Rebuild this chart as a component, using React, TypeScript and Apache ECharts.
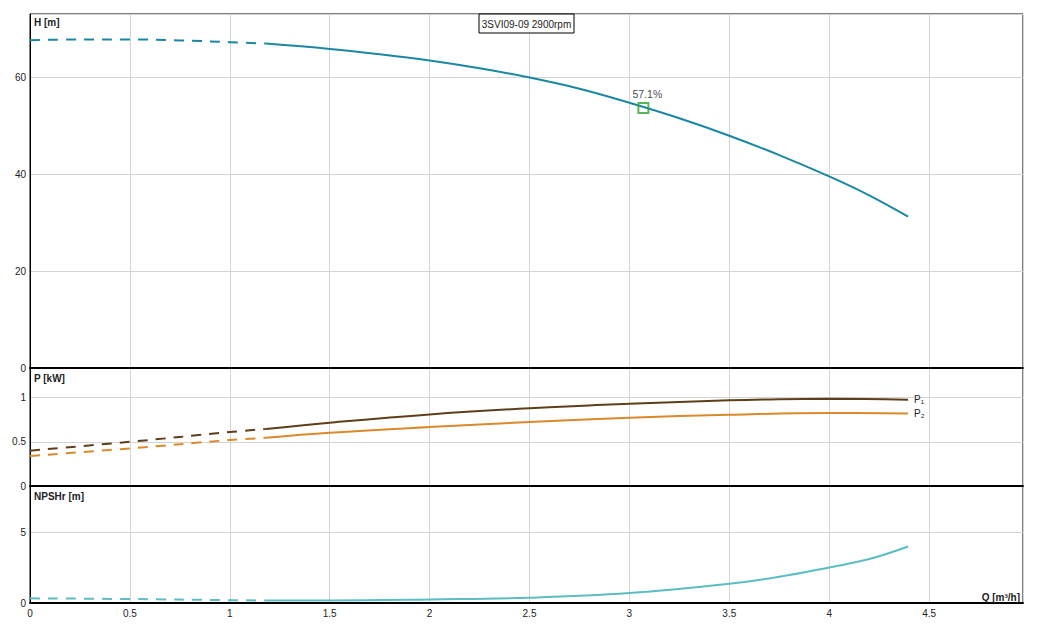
import React, { useEffect, useRef } from "react";
import * as echarts from "echarts";

// ---- data ----
const H_DASHED: [number, number][] = [
  [0, 67.6], [0.25, 67.75], [0.5, 67.75], [0.75, 67.55], [1.0, 67.2], [1.18, 66.9],
];
const H_SOLID: [number, number][] = [
  [1.18, 66.9], [1.5, 65.8], [1.75, 64.7], [2.0, 63.4], [2.25, 61.8], [2.5, 59.9],
  [2.75, 57.6], [3.0, 54.7], [3.25, 51.5], [3.5, 47.9], [3.75, 43.9], [4.0, 39.5],
  [4.2, 35.6], [4.395, 31.2],
];
const P1_DASHED: [number, number][] = [[0, 0.4], [0.5, 0.5], [1.0, 0.61], [1.18, 0.645]];
const P1_SOLID: [number, number][] = [
  [1.18, 0.645], [1.5, 0.716], [2.0, 0.81], [2.5, 0.879], [3.0, 0.93], [3.5, 0.97],
  [3.75, 0.982], [4.0, 0.986], [4.395, 0.977],
];
const P2_DASHED: [number, number][] = [[0, 0.34], [0.5, 0.425], [1.0, 0.52], [1.18, 0.545]];
const P2_SOLID: [number, number][] = [
  [1.18, 0.545], [1.5, 0.602], [2.0, 0.667], [2.5, 0.723], [3.0, 0.773], [3.5, 0.807],
  [4.0, 0.826], [4.395, 0.82],
];
const NPSH_DASHED: [number, number][] = [[0, 0.33], [0.5, 0.28], [1.0, 0.2], [1.18, 0.18]];
const NPSH_SOLID: [number, number][] = [
  [1.18, 0.18], [1.5, 0.18], [2.0, 0.25], [2.5, 0.37], [3.0, 0.7], [3.5, 1.36],
  [3.75, 1.85], [4.0, 2.51], [4.2, 3.1], [4.395, 3.99],
];
const DUTY_POINT: [number, number] = [3.07, 53.6];
const DUTY_LABEL = "57.1%";
const TITLE = "3SVI09-09 2900rpm";
const X_MAX = 4.97;
const H_MAX = 73;
const P_MAX = 1.335;
const NPSH_MAX = 8.26;

const FONT = 'Arial, "Liberation Sans", sans-serif';
const C_H = "#1b87a3";
const C_P1 = "#5e3f1a";
const C_P2 = "#d98a2a";
const C_N = "#5cbdc2";
const GRID_C = "#d4d4d4";

export default function App() {
  const ref = useRef<HTMLDivElement>(null);
  useEffect(() => {
    if (!ref.current) return;
    const chart = echarts.init(ref.current, undefined, { renderer: "svg" });
    const L = 30, W = 993;
    const grids = [
      { left: L, top: 14, width: W, height: 354 },
      { left: L, top: 368, width: W, height: 118 },
      { left: L, top: 486, width: W, height: 117 },
    ].map((g) => ({ ...g, show: true, borderColor: "#000", borderWidth: 1, backgroundColor: "transparent" }));

    const xAxes = [0, 1, 2].map((i) => ({
      type: "value",
      gridIndex: i,
      min: 0,
      max: X_MAX,
      interval: 0.5,
      axisLine: { show: true, onZero: false, lineStyle: { color: "#000", width: 2 } },
      axisTick: { show: false },
      splitLine: { show: true, lineStyle: { color: GRID_C, width: 1 } },
      axisLabel: {
        show: i === 2,
        showMaxLabel: false,
        margin: 5,
        fontSize: 10,
        color: "#222",
        fontFamily: FONT,
      },
    }));
    const yDefs = [
      { max: H_MAX, interval: 20 },
      { max: P_MAX, interval: 0.5 },
      { max: NPSH_MAX, interval: 5 },
    ];
    const yAxes = yDefs.map((d, i) => ({
      type: "value",
      gridIndex: i,
      min: 0,
      max: d.max,
      interval: d.interval,
      axisLine: { show: true, onZero: false, lineStyle: { color: "#000", width: 1 } },
      axisTick: { show: false },
      splitLine: { show: true, lineStyle: { color: GRID_C, width: 1 } },
      axisLabel: {
        showMaxLabel: false,
        margin: 4,
        fontSize: 10,
        color: "#222",
        fontFamily: FONT,
      },
    }));

    const line = (
      data: [number, number][],
      idx: number,
      color: string,
      dashed: boolean,
      extra: any = {}
    ) => ({
      type: "line",
      xAxisIndex: idx,
      yAxisIndex: idx,
      data,
      smooth: 0.4,
      showSymbol: false,
      symbol: "none",
      silent: true,
      lineStyle: { color, width: 2, type: dashed ? [10, 8] : "solid" },
      z: 3,
      ...extra,
    });

    const endLbl = (txt: string) => ({
      endLabel: {
        show: true,
        formatter: txt,
        distance: 6,
        fontSize: 10,
        color: "#222",
        fontFamily: FONT,
      },
    });

    chart.setOption({
      animation: false,
      grid: grids,
      xAxis: xAxes,
      yAxis: yAxes,
      series: [
        line(H_DASHED, 0, C_H, true),
        line(H_SOLID, 0, C_H, false),
        line(P1_DASHED, 1, C_P1, true),
        line(P1_SOLID, 1, C_P1, false, endLbl("P₁")),
        line(P2_DASHED, 1, C_P2, true),
        line(P2_SOLID, 1, C_P2, false, endLbl("P₂")),
        line(NPSH_DASHED, 2, C_N, true),
        line(NPSH_SOLID, 2, C_N, false),
        {
          type: "scatter",
          xAxisIndex: 0,
          yAxisIndex: 0,
          data: [DUTY_POINT],
          symbol: "rect",
          symbolSize: 10,
          itemStyle: { color: "rgba(0,0,0,0)", borderColor: "#2fa52f", borderWidth: 2 },
          label: {
            show: true,
            position: "top",
            distance: 3,
            offset: [4, 0],
            formatter: DUTY_LABEL,
            fontSize: 10.5,
            color: "#111",
            fontFamily: FONT,
          },
          z: 5,
        },
      ],
      graphic: [
        {
          type: "rect",
          shape: { x: 479, y: 14, width: 95, height: 19 },
          style: { fill: "#fff", stroke: "#000", lineWidth: 1 },
          z: 10,
        },
        {
          type: "text",
          x: 526.5,
          y: 24,
          style: { text: TITLE, fontSize: 10, fontFamily: FONT, fill: "#222", textAlign: "center", textVerticalAlign: "middle" },
          z: 11,
        },
        {
          type: "text",
          x: 34,
          y: 22,
          style: { text: "H [m]", fontSize: 10, fontWeight: "bold", fontFamily: FONT, fill: "#222", textVerticalAlign: "middle" },
          z: 11,
        },
        {
          type: "text",
          x: 34,
          y: 378,
          style: { text: "P [kW]", fontSize: 10, fontWeight: "bold", fontFamily: FONT, fill: "#222", textVerticalAlign: "middle" },
          z: 11,
        },
        {
          type: "text",
          x: 34,
          y: 496,
          style: { text: "NPSHr [m]", fontSize: 10, fontWeight: "bold", fontFamily: FONT, fill: "#222", textVerticalAlign: "middle" },
          z: 11,
        },
        {
          type: "text",
          x: 1020,
          y: 597,
          style: { text: "Q [m³/h]", fontSize: 10, fontWeight: "bold", fontFamily: FONT, fill: "#222", textAlign: "right", textVerticalAlign: "middle" },
          z: 11,
        },
      ],
    });
    return () => chart.dispose();
  }, []);
  return (
    <div
      ref={ref}
      style={{ position: "fixed", left: 0, top: 0, width: 1045, height: 626, background: "#fff" }}
    />
  );
}
